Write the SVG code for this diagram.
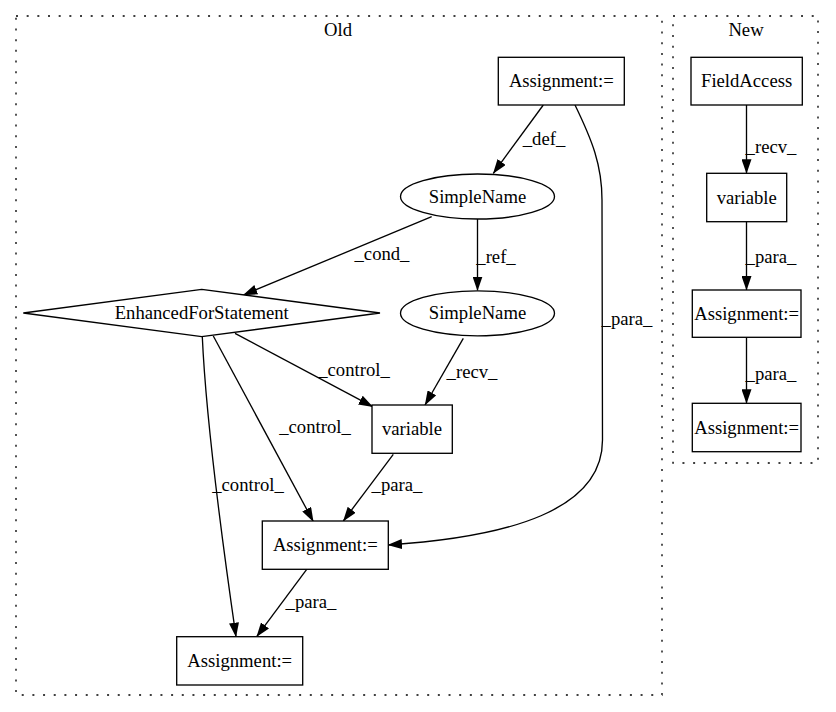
<svg xmlns="http://www.w3.org/2000/svg" width="836" height="712" viewBox="0 0 836 712" font-family="'Liberation Serif', serif">
<style>
text{font-family:'Liberation Serif','DejaVu Serif',serif;font-size:18.67px;fill:#000;text-anchor:middle}
.cl{fill:none;stroke:#000;stroke-width:1.33;stroke-dasharray:2,8.67}
.nd{fill:#fff;stroke:#000;stroke-width:1.33}
.e{fill:none;stroke:#000;stroke-width:1.33;marker-end:url(#ah)}
</style>
<defs>
<marker id="ah" viewBox="0 0 14.5 10" refX="14" refY="5" markerWidth="14.5" markerHeight="10" markerUnits="userSpaceOnUse" orient="auto">
<path d="M0,0 L14.5,5 L0,10 z" fill="#000"/>
</marker>
</defs>
<rect width="836" height="712" fill="#fff"/>
<g id="cluster_old">
<rect class="cl" x="16" y="16" width="646" height="679"/>
<text x="338" y="36">Old</text>
</g>
<g id="cluster_new">
<rect class="cl" x="673" y="16" width="145" height="447"/>
<text x="746" y="36">New</text>
</g>
<g id="edges">
<path class="e" d="M543.3,105 L493.3,173.3"/>
<text x="544" y="145">_def_</text>
<path class="e" d="M575,105 C592,140 602,165 602,200 L602.5,440 C602.5,510 510,537 388,545"/>
<text x="627" y="325">_para_</text>
<path class="e" d="M431.7,216.7 L243.3,295"/>
<text x="382" y="260">_cond_</text>
<path class="e" d="M477.5,219 L477.5,290.5"/>
<text x="496" y="263">_ref_</text>
<path class="e" d="M463.3,338.3 L425,405"/>
<text x="472" y="378">_recv_</text>
<path class="e" d="M235,333.3 L372.7,406.7"/>
<text x="354" y="376">_control_</text>
<path class="e" d="M213.3,336 L313.3,521.5"/>
<text x="315" y="433">_control_</text>
<path class="e" d="M202.3,336.7 C206,420 222,540 236,636.7"/>
<text x="248" y="491">_control_</text>
<path class="e" d="M393.3,454.3 L343.3,521"/>
<text x="397" y="491">_para_</text>
<path class="e" d="M306.7,569.3 L256.7,636.7"/>
<text x="311" y="608">_para_</text>
<path class="e" d="M746.5,105 L746.5,173.3"/>
<text x="771" y="153">_recv_</text>
<path class="e" d="M746.5,221.7 L746.5,290"/>
<text x="771" y="263">_para_</text>
<path class="e" d="M746.5,337.3 L746.5,403.3"/>
<text x="771" y="380">_para_</text>
</g>
<g id="n_assign_top">
<rect class="nd" x="498.3" y="57.3" width="126" height="47.7"/>
<text x="561.3" y="87">Assignment:=</text>
</g>
<g id="n_simplename1">
<ellipse class="nd" cx="477.5" cy="196.5" rx="77" ry="22.5"/>
<text x="477.5" y="202.5">SimpleName</text>
</g>
<g id="n_simplename2">
<ellipse class="nd" cx="477.5" cy="313.3" rx="77" ry="22.5"/>
<text x="477.5" y="319.3">SimpleName</text>
</g>
<g id="n_efs">
<polygon class="nd" points="201.7,289.3 380,313 201.7,336.7 23.3,313"/>
<text x="201.7" y="319">EnhancedForStatement</text>
</g>
<g id="n_variable_old">
<rect class="nd" x="372" y="405" width="80.3" height="48.3"/>
<text x="412" y="435">variable</text>
</g>
<g id="n_assign_mid">
<rect class="nd" x="262.3" y="521" width="126" height="48.3"/>
<text x="325.3" y="551">Assignment:=</text>
</g>
<g id="n_assign_bot">
<rect class="nd" x="176.7" y="636.7" width="126" height="48.3"/>
<text x="239.7" y="667">Assignment:=</text>
</g>
<g id="n_fieldaccess">
<rect class="nd" x="691" y="57.3" width="111.3" height="47.7"/>
<text x="746.6" y="87">FieldAccess</text>
</g>
<g id="n_variable_new">
<rect class="nd" x="706.7" y="173.3" width="80" height="48.4"/>
<text x="746.7" y="203.5">variable</text>
</g>
<g id="n_assign_new1">
<rect class="nd" x="692.3" y="290" width="108.7" height="47.3"/>
<text x="746.6" y="319.5">Assignment:=</text>
</g>
<g id="n_assign_new2">
<rect class="nd" x="692.3" y="403.3" width="108.7" height="48.4"/>
<text x="746.6" y="433.5">Assignment:=</text>
</g>
</svg>
